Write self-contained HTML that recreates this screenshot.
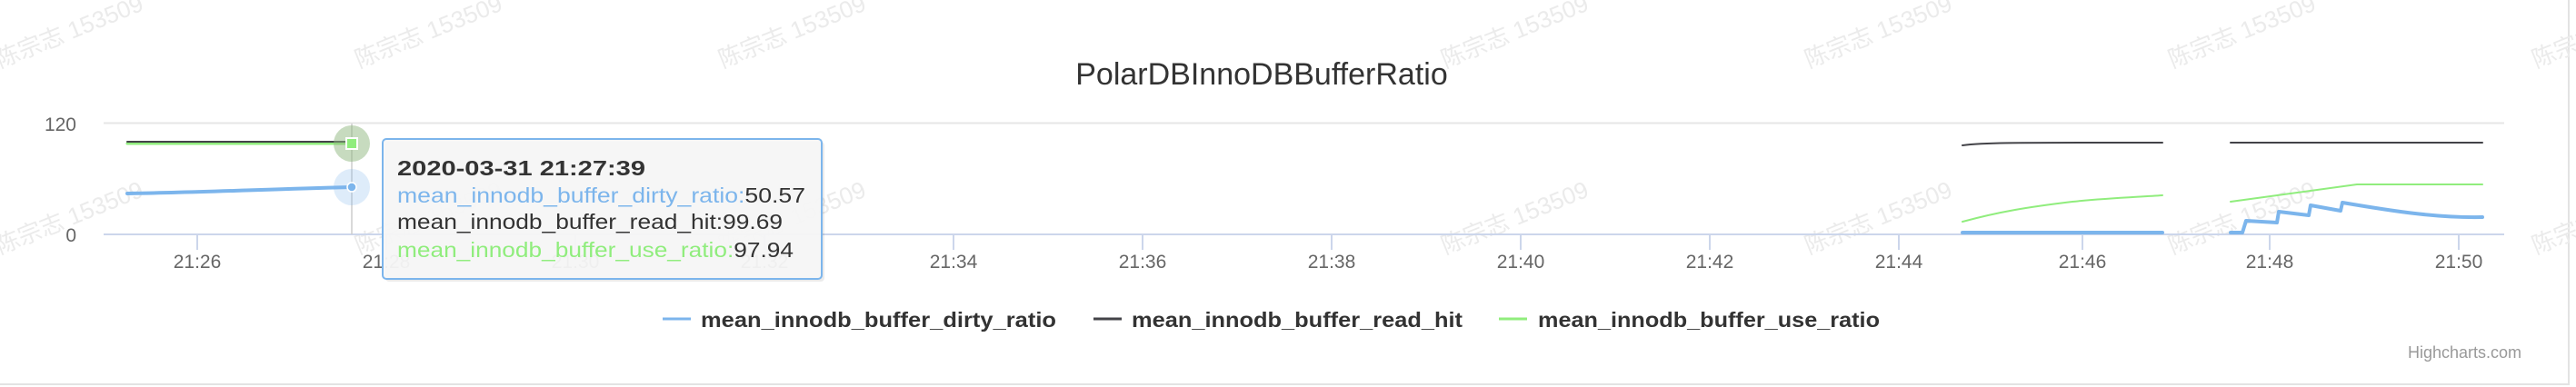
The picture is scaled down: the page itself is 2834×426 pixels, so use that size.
<!DOCTYPE html>
<html><head><meta charset="utf-8"><style>
html,body{margin:0;padding:0;background:#fff;width:2834px;height:426px;overflow:hidden}
svg{display:block}
text{font-family:"Liberation Sans","Noto Sans CJK SC",sans-serif}
</style></head><body>
<svg width="2834" height="426" viewBox="0 0 2834 426" xmlns="http://www.w3.org/2000/svg">
<rect x="0" y="0" width="2834" height="426" fill="#fff"/>
<rect x="-5" y="-5" width="2831" height="428" fill="none" stroke="#e3e3e3" stroke-width="2"/>
<!-- watermarks -->
<g fill="#ebebeb" font-size="26" font-family="Liberation Sans,Noto Sans CJK SC,sans-serif">
<text transform="translate(0,75) rotate(-22)">陈宗志 153509</text>
<text transform="translate(395,75) rotate(-22)">陈宗志 153509</text>
<text transform="translate(795,75) rotate(-22)">陈宗志 153509</text>
<text transform="translate(1590,75) rotate(-22)">陈宗志 153509</text>
<text transform="translate(1990,75) rotate(-22)">陈宗志 153509</text>
<text transform="translate(2390,75) rotate(-22)">陈宗志 153509</text>
<text transform="translate(2790,75) rotate(-22)">陈宗志 153509</text>
<text transform="translate(0,280) rotate(-22)">陈宗志 153509</text>
<text transform="translate(395,280) rotate(-22)">陈宗志 153509</text>
<text transform="translate(795,280) rotate(-22)">陈宗志 153509</text>
<text transform="translate(1590,280) rotate(-22)">陈宗志 153509</text>
<text transform="translate(1990,280) rotate(-22)">陈宗志 153509</text>
<text transform="translate(2390,280) rotate(-22)">陈宗志 153509</text>
<text transform="translate(2790,280) rotate(-22)">陈宗志 153509</text>
</g>
<text x="1388" y="93" font-size="34" fill="#333" text-anchor="middle">PolarDBInnoDBBufferRatio</text>
<!-- grid -->
<line x1="114" y1="135.5" x2="2755" y2="135.5" stroke="#e6e6e6" stroke-width="2"/>
<line x1="114" y1="258" x2="2755" y2="258" stroke="#ccd6eb" stroke-width="2"/>
<text x="84" y="144" font-size="21" fill="#666" text-anchor="end">120</text>
<text x="84" y="266" font-size="21" fill="#666" text-anchor="end">0</text>
<g stroke="#ccd6eb" stroke-width="2">
<line x1="217" y1="258" x2="217" y2="275"/><line x1="425" y1="258" x2="425" y2="275"/><line x1="633" y1="258" x2="633" y2="275"/><line x1="841" y1="258" x2="841" y2="275"/><line x1="1049" y1="258" x2="1049" y2="275"/><line x1="1257" y1="258" x2="1257" y2="275"/><line x1="1465" y1="258" x2="1465" y2="275"/><line x1="1673" y1="258" x2="1673" y2="275"/><line x1="1881" y1="258" x2="1881" y2="275"/><line x1="2089" y1="258" x2="2089" y2="275"/><line x1="2291" y1="258" x2="2291" y2="275"/><line x1="2497" y1="258" x2="2497" y2="275"/><line x1="2705" y1="258" x2="2705" y2="275"/>
</g>
<g font-size="21" fill="#666" text-anchor="middle">
<text x="217" y="295">21:26</text><text x="425" y="295">21:28</text><text x="633" y="295">21:30</text><text x="841" y="295">21:32</text><text x="1049" y="295">21:34</text><text x="1257" y="295">21:36</text><text x="1465" y="295">21:38</text><text x="1673" y="295">21:40</text><text x="1881" y="295">21:42</text><text x="2089" y="295">21:44</text><text x="2291" y="295">21:46</text><text x="2497" y="295">21:48</text><text x="2705" y="295">21:50</text>
</g>
<!-- crosshair -->
<line x1="387" y1="136" x2="387" y2="258" stroke="#ccc" stroke-width="1.5"/>
<!-- series -->
<g fill="none" stroke-linejoin="round" stroke-linecap="round">
<path d="M140 158 L387 158" stroke="#90ed7d" stroke-width="3"/>
<path d="M140 156 L387 156" stroke="#434348" stroke-width="2"/>
<path d="M140 213 C220 212 300 208 387 206" stroke="#7cb5ec" stroke-width="4"/>
<path d="M2159 160 C2180 157 2200 157 2379 157" stroke="#434348" stroke-width="2"/>
<path d="M2454 157 L2731 157" stroke="#434348" stroke-width="2"/>
<path d="M2159 244 C2200 233 2230 228 2280 222 C2320 218 2350 217 2379 215" stroke="#90ed7d" stroke-width="2"/>
<path d="M2454 222 L2593 203 L2731 203" stroke="#90ed7d" stroke-width="2"/>
<path d="M2159 256 L2379 256" stroke="#7cb5ec" stroke-width="4"/>
<path d="M2454 256 L2467 256 L2471 243 L2505 245 L2507 233 L2540 237 L2542 226 L2575 232 L2577 223 C2630 232 2680 240 2731 239" stroke="#7cb5ec" stroke-width="4"/>
</g>
<!-- markers -->
<circle cx="387" cy="158" r="20" fill="#90b87f" opacity="0.5"/>
<rect x="381" y="152" width="12" height="12" fill="#90ed7d" stroke="#fff" stroke-width="2"/>
<circle cx="387" cy="206" r="20" fill="#7cb5ec" opacity="0.25"/>
<circle cx="387" cy="206" r="5" fill="#7cb5ec" stroke="#fff" stroke-width="1.5"/>
<!-- tooltip -->
<rect x="424" y="156" width="483" height="154" rx="4" fill="#000" opacity="0.08"/>
<rect x="421" y="153" width="483" height="154" rx="4" fill="#f7f7f7" fill-opacity="0.95" stroke="#7cb5ec" stroke-width="2"/>
<g font-size="23">
<text x="437" y="193" fill="#333" font-weight="bold" textLength="273" lengthAdjust="spacingAndGlyphs">2020-03-31 21:27:39</text>
<text x="437" y="223" textLength="449" lengthAdjust="spacingAndGlyphs"><tspan fill="#7cb5ec">mean_innodb_buffer_dirty_ratio:</tspan><tspan fill="#333">50.57</tspan></text>
<text x="437" y="252" fill="#333" textLength="424" lengthAdjust="spacingAndGlyphs">mean_innodb_buffer_read_hit:99.69</text>
<text x="437" y="283" textLength="436" lengthAdjust="spacingAndGlyphs"><tspan fill="#90ed7d">mean_innodb_buffer_use_ratio:</tspan><tspan fill="#333">97.94</tspan></text>
</g>
<!-- legend -->
<line x1="729" y1="351" x2="760" y2="351" stroke="#7cb5ec" stroke-width="3"/>
<line x1="1203" y1="351" x2="1234" y2="351" stroke="#434348" stroke-width="3"/>
<line x1="1649" y1="351" x2="1680" y2="351" stroke="#90ed7d" stroke-width="3"/>
<g font-size="23" font-weight="bold" fill="#333">
<text x="771" y="360" textLength="391" lengthAdjust="spacingAndGlyphs">mean_innodb_buffer_dirty_ratio</text>
<text x="1245" y="360" textLength="364" lengthAdjust="spacingAndGlyphs">mean_innodb_buffer_read_hit</text>
<text x="1692" y="360" textLength="376" lengthAdjust="spacingAndGlyphs">mean_innodb_buffer_use_ratio</text>
</g>
<text x="2774" y="394" font-size="18" fill="#999" text-anchor="end">Highcharts.com</text>
</svg>
</body></html>
